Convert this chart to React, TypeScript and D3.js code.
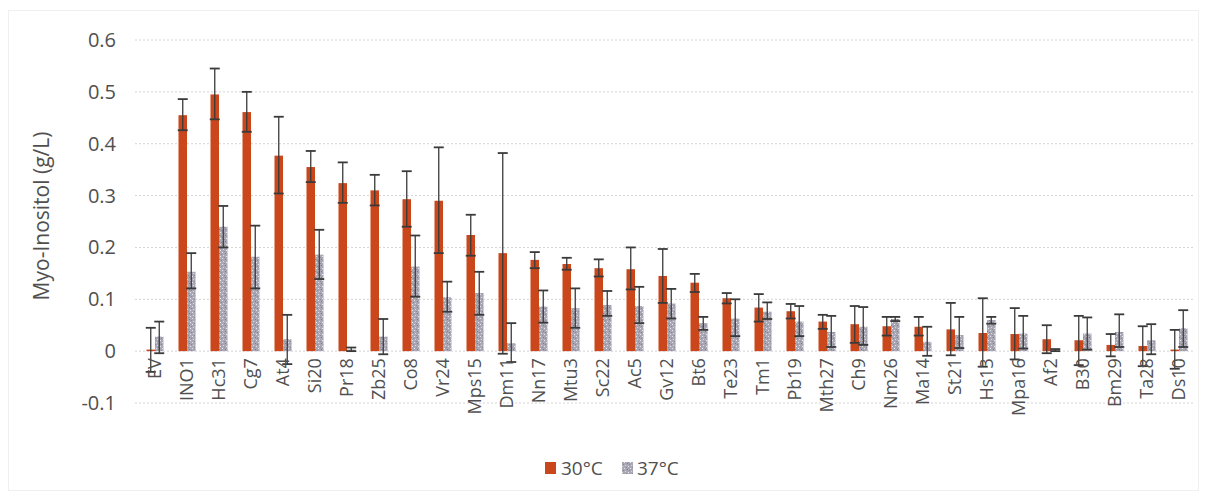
import React from "react";
import * as d3 from "d3";

const categories = ["EV","INO1","Hc31","Cg7","At4","Si20","Pr18","Zb25","Co8","Vr24","Mps15","Dm11","Nn17","Mtu3","Sc22","Ac5","Gv12","Bt6","Te23","Tm1","Pb19","Mth27","Ch9","Nm26","Ma14","St21","Hs13","Mpa16","Af2","B30","Bm29","Ta28","Ds10"];

// 30°C means and error-bar bounds
const mean30 = [0.003,0.455,0.495,0.461,0.377,0.355,0.324,0.31,0.293,0.29,0.224,0.189,0.176,0.168,0.16,0.158,0.145,0.132,0.102,0.084,0.077,0.057,0.052,0.048,0.047,0.042,0.035,0.033,0.023,0.021,0.012,0.01,0.003];
const hi30 = [0.045,0.486,0.545,0.5,0.452,0.386,0.364,0.34,0.347,0.393,0.263,0.382,0.191,0.18,0.177,0.2,0.197,0.149,0.112,0.11,0.091,0.07,0.087,0.066,0.066,0.093,0.102,0.083,0.05,0.068,0.033,0.048,0.041];
const lo30 = [-0.04,0.426,0.447,0.423,0.304,0.326,0.286,0.281,0.24,0.189,0.184,-0.005,0.16,0.157,0.144,0.119,0.093,0.114,0.092,0.057,0.063,0.043,0.016,0.03,0.03,-0.008,-0.03,-0.016,-0.004,-0.027,-0.01,-0.029,-0.034];

// 37°C means and error-bar bounds
const mean37 = [0.028,0.153,0.24,0.182,0.023,0.186,0.003,0.028,0.163,0.104,0.112,0.015,0.086,0.083,0.089,0.087,0.092,0.054,0.063,0.076,0.057,0.037,0.047,0.062,0.018,0.031,0.06,0.034,0.002,0.034,0.037,0.021,0.044];
const hi37 = [0.057,0.189,0.28,0.242,0.07,0.234,0.007,0.062,0.223,0.134,0.153,0.054,0.117,0.121,0.116,0.124,0.12,0.066,0.1,0.094,0.087,0.068,0.085,0.066,0.047,0.066,0.066,0.068,0.004,0.065,0.071,0.052,0.079];
const lo37 = [-0.004,0.121,0.2,0.121,-0.025,0.139,0,-0.006,0.105,0.076,0.07,-0.021,0.055,0.045,0.068,0.054,0.063,0.041,0.029,0.062,0.029,0.008,0.012,0.058,-0.009,0.006,0.053,0.005,0,0.003,0.008,-0.006,0.008];

const yTicks = [-0.1, 0, 0.1, 0.2, 0.3, 0.4, 0.5, 0.6];
const seriesNames = ["30°C", "37°C"];

const W = 1207;
const H = 499;
const FONT = "'Open Sans', 'Noto Sans', sans-serif";
const ORANGE = "#c9471b";
const TEXT = "#505050";
const ERR = "#3a3a3a";

// Excel-style tick text: plain hyphen for negatives, "0" for zero
const tickText = (t: number) => (t === 0 ? "0" : (t < 0 ? "-" : "") + d3.format(".1f")(Math.abs(t)));

export default function App() {
  const x = d3.scaleBand<string>().domain(categories).range([139, 1195]).padding(0);
  const y = d3.scaleLinear().domain([-0.1, 0.6]).range([403, 40]);
  const bw = 8.5;
  const cap = 5;

  const errBar = (cx: number, lo: number, hi: number, key: string) => (
    <g key={key} stroke={ERR} strokeWidth={1.3}>
      <line x1={cx} x2={cx} y1={y(lo)} y2={y(hi)} />
      <line x1={cx - cap} x2={cx + cap} y1={y(hi)} y2={y(hi)} strokeWidth={1.8} />
      <line x1={cx - cap} x2={cx + cap} y1={y(lo)} y2={y(lo)} strokeWidth={1.8} />
    </g>
  );

  return (
    <svg
      width={W}
      height={H}
      style={{ position: "absolute", left: 0, top: 0, background: "#fff" }}
      fontFamily={FONT}
    >
      <defs>
        <pattern id="speckle" width="6" height="6" patternUnits="userSpaceOnUse">
          <rect width="6" height="6" fill="#a9a7b4" />
          <rect x="0" y="0" width="1" height="1" fill="#e4e3ea" />
          <rect x="3" y="1" width="1" height="1" fill="#7d7b88" />
          <rect x="1" y="3" width="1" height="1" fill="#d8d7df" />
          <rect x="4" y="4" width="1" height="1" fill="#e9e8ee" />
          <rect x="5" y="2" width="1" height="1" fill="#8a8896" />
          <rect x="2" y="5" width="1" height="1" fill="#8f8d9a" />
        </pattern>
      </defs>
      <rect x={8.5} y={10.5} width={1190} height={480} fill="none" stroke="#f0f0f0" />

      {/* gridlines */}
      {yTicks.map((t) => (
        <line
          key={"g" + t}
          x1={135}
          x2={1195}
          y1={y(t)}
          y2={y(t)}
          stroke="#d4d4d4"
          strokeWidth={1}
          strokeDasharray="2 2"
        />
      ))}

      {/* y tick labels */}
      {yTicks.map((t) => (
        <text
          key={"t" + t}
          x={116}
          y={y(t)}
          dy="0.35em"
          textAnchor="end"
          fontSize={20}
          fill={TEXT}
        >
          {tickText(t)}
        </text>
      ))}

      {/* y axis title */}
      <text
        transform={`translate(42,216) rotate(-90)`}
        textAnchor="middle"
        dy="0.35em"
        fontSize={21}
        fill={TEXT}
      >
        Myo-Inositol (g/L)
      </text>

      {/* bars */}
      {categories.map((c, i) => {
        const cx = (x(c) as number) + x.bandwidth() / 2;
        const y0 = y(0);
        const y30 = y(mean30[i]);
        const y37 = y(mean37[i]);
        return (
          <g key={c}>
            <rect x={cx - bw} y={Math.min(y0, y30)} width={bw} height={Math.max(1.5, Math.abs(y0 - y30))} fill={ORANGE} />
            <rect x={cx} y={Math.min(y0, y37)} width={bw} height={Math.max(1.5, Math.abs(y0 - y37))} fill="url(#speckle)" />
          </g>
        );
      })}

      {/* error bars */}
      {categories.map((c, i) => {
        const cx = (x(c) as number) + x.bandwidth() / 2;
        return (
          <g key={"e" + c}>
            {errBar(cx - bw / 2, lo30[i], hi30[i], "a")}
            {errBar(cx + bw / 2, lo37[i], hi37[i], "b")}
          </g>
        );
      })}

      {/* category labels */}
      {categories.map((c) => {
        const cx = (x(c) as number) + x.bandwidth() / 2;
        return (
          <text
            key={"l" + c}
            transform={`translate(${cx},${y(0) + 7}) rotate(-90)`}
            textAnchor="end"
            dy="0.35em"
            fontSize={18}
            fill={TEXT}
          >
            {c}
          </text>
        );
      })}

      {/* legend */}
      <g fontSize={19} fill={TEXT}>
        <rect x={545} y={462} width={11} height={12} fill={ORANGE} />
        <text x={561} y={468} dy="0.35em">{seriesNames[0]}</text>
        <rect x={622} y={462} width={11} height={12} fill="url(#speckle)" />
        <text x={637} y={468} dy="0.35em">{seriesNames[1]}</text>
      </g>
    </svg>
  );
}
